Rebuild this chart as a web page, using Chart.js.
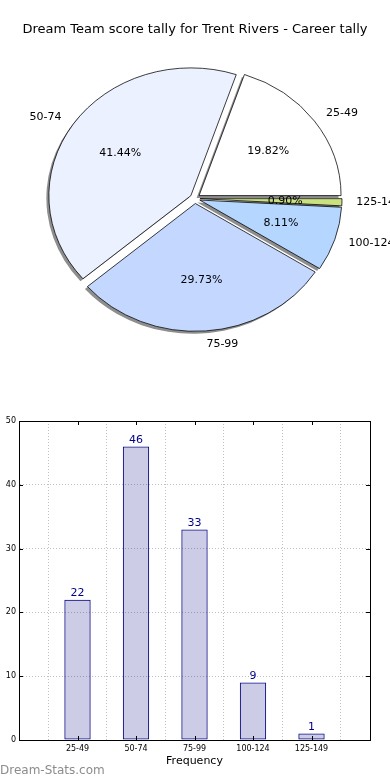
<!DOCTYPE html>
<html>
<head>
<meta charset="utf-8">
<script src="https://cdn.jsdelivr.net/npm/chart.js@4.4.1/dist/chart.umd.min.js"></script>
<style>
  html, body { margin: 0; padding: 0; background: #fff; }
  body { width: 390px; height: 780px; position: relative; overflow: hidden; font-family: 'DejaVu Sans', sans-serif; }
  #pieWrap { position: absolute; left: 0; top: 0; width: 390px; height: 380px; }
  #barWrap { position: absolute; left: 0; top: 400px; width: 390px; height: 380px; }
  #wm { position: absolute; left: 0; top: 763px; font-size: 12px; color: #8c8c8c; white-space: nowrap; }
</style>
</head>
<body>
<div id="pieWrap"><canvas id="pie" width="390" height="380"></canvas></div>
<div id="barWrap"><canvas id="bar" width="390" height="380"></canvas></div>
<div id="wm">Dream-Stats.com</div>
<script>
// ---- data ----
const chartTitle = 'Dream Team score tally for Trent Rivers - Career tally';
const categories = ['25-49', '50-74', '75-99', '100-124', '125-149'];
const frequencies = [22, 46, 33, 9, 1];
const sliceColors = ['#ffffff', '#ebf1ff', '#c4d8ff', '#b4d6ff', '#c9e27f'];
const yTicks = [0, 10, 20, 30, 40, 50];
const xAxisTitle = 'Frequency';

const FONT = "'DejaVu Sans', sans-serif";
const total = frequencies.reduce((a, b) => a + b, 0);

// Pie drawn clockwise in Chart.js; reverse order so slices run counter-clockwise from east
const pieLabels = categories.slice().reverse();
const pieData = frequencies.slice().reverse();
const pieColors = sliceColors.slice().reverse();

const Y_SCALE = 0.9;   // pie is slightly squashed vertically in the reference
const EXPLODE = 5;     // px each wedge is pulled out

function explodeShift(arc) {
  const mid = (arc.startAngle + arc.endAngle) / 2;
  return { dx: Math.cos(mid) * EXPLODE, dy: Math.sin(mid) * EXPLODE / Y_SCALE };
}

const piePlugin = {
  id: 'piePlugin',
  beforeDatasetsDraw(chart) {
    const ctx = chart.ctx;
    const meta = chart.getDatasetMeta(0);
    const a0 = meta.data[0];
    const cx = a0.x, cy = a0.y;
    // pull each wedge out by wrapping the library's own draw
    meta.data.forEach(arc => {
      if (arc._exploded) return;
      const orig = arc.draw;
      arc.draw = function (c) {
        const s = explodeShift(this);
        c.save();
        c.translate(s.dx, s.dy);
        orig.call(this, c);
        c.restore();
      };
      arc._exploded = true;
    });
    ctx.save();
    ctx.translate(cx, cy);
    ctx.scale(1, Y_SCALE);
    ctx.translate(-cx, -cy);
    // shadows
    meta.data.forEach(arc => {
      const s = explodeShift(arc);
      const x = arc.x + s.dx - 2.5;
      const y = arc.y + s.dy + 2.5 / Y_SCALE;
      ctx.beginPath();
      ctx.moveTo(x, y);
      ctx.arc(x, y, arc.outerRadius, arc.startAngle, arc.endAngle);
      ctx.closePath();
      ctx.fillStyle = '#8e8e8e';
      ctx.fill();
    });
  },
  afterDatasetsDraw(chart) {
    const ctx = chart.ctx;
    ctx.restore();
    const meta = chart.getDatasetMeta(0);
    ctx.save();
    ctx.font = '11px ' + FONT;
    ctx.fillStyle = '#000';
    ctx.textBaseline = 'middle';
    meta.data.forEach((arc, i) => {
      const mid = (arc.startAngle + arc.endAngle) / 2;
      const R = arc.outerRadius;
      const c = Math.cos(mid), s = Math.sin(mid);
      const bx = arc.x + c * EXPLODE, by = arc.y + s * EXPLODE;
      const lx = bx + c * R * 1.1, ly = by + s * R * 1.1 * Y_SCALE;
      ctx.textAlign = c >= 0 ? 'left' : 'right';
      ctx.fillText(pieLabels[i], lx, ly);
      const px = bx + c * R * 0.6, py = by + s * R * 0.6 * Y_SCALE;
      ctx.textAlign = 'center';
      const pct = (pieData[i] / total * 100).toFixed(2) + '%';
      ctx.fillText(pct, px, py);
    });
    ctx.restore();
  }
};

new Chart(document.getElementById('pie'), {
  type: 'pie',
  data: {
    labels: pieLabels,
    datasets: [{
      data: pieData,
      backgroundColor: pieColors,
      borderColor: '#000',
      borderWidth: 0.8,
      offset: 0,
      hoverOffset: 0
    }]
  },
  options: {
    responsive: false,
    animation: false,
    events: [],
    rotation: 90,
    radius: 142,
    layout: { padding: { left: 0, right: 0, top: 0, bottom: 20.8 } },
    plugins: {
      legend: { display: false },
      tooltip: { enabled: false },
      title: {
        display: true,
        text: chartTitle,
        color: '#000',
        font: { family: FONT, size: 13, weight: 'normal' },
        padding: { top: 22.2, bottom: 0 }
      }
    }
  },
  plugins: [piePlugin]
});

// ---- bar chart ----
const barLabels = [''].concat(categories, ['']);
const barValues = [null].concat(frequencies, [null]);

const barPlugin = {
  id: 'barPlugin',
  afterDatasetsDraw(chart) {
    const ctx = chart.ctx;
    const area = chart.chartArea;
    const ys = chart.scales.y, xs = chart.scales.x;
    ctx.save();
    ctx.strokeStyle = '#000';
    ctx.lineWidth = 1;
    ctx.beginPath();
    yTicks.forEach(v => {
      const y = Math.round(ys.getPixelForValue(v)) + 0.5;
      ctx.moveTo(area.left, y); ctx.lineTo(area.left + 4, y);
      ctx.moveTo(area.right, y); ctx.lineTo(area.right - 4, y);
    });
    categories.forEach((c, i) => {
      const x = Math.round(xs.getPixelForValue(i + 1)) + 0.5;
      ctx.moveTo(x, area.bottom); ctx.lineTo(x, area.bottom - 4);
      ctx.moveTo(x, area.top); ctx.lineTo(x, area.top + 4);
    });
    ctx.stroke();
    ctx.strokeRect(Math.round(area.left) + 0.5, Math.round(area.top) + 0.5,
                   Math.round(area.right - area.left), Math.round(area.bottom - area.top));
    const meta = chart.getDatasetMeta(0);
    ctx.font = '11px ' + FONT;
    ctx.fillStyle = '#000088';
    ctx.textAlign = 'center';
    ctx.textBaseline = 'bottom';
    meta.data.forEach((bar, i) => {
      const v = barValues[i];
      if (v === null) return;
      ctx.fillText(String(v), bar.x, bar.y - 1);
    });
    ctx.restore();
  }
};

new Chart(document.getElementById('bar'), {
  type: 'bar',
  data: {
    labels: barLabels,
    datasets: [{
      data: barValues,
      backgroundColor: 'rgba(0,0,128,0.2)',
      borderColor: '#000080',
      borderWidth: 1,
      borderSkipped: false,
      barPercentage: 0.45,
      categoryPercentage: 1.0
    }]
  },
  options: {
    responsive: false,
    animation: false,
    events: [],
    layout: { padding: { left: 0, right: 20, top: 21, bottom: 0 } },
    plugins: {
      legend: { display: false },
      tooltip: { enabled: false },
      title: { display: false }
    },
    scales: {
      x: {
        type: 'category',
        offset: false,
        grid: { color: '#c0c0c0', lineWidth: 1, drawTicks: false },
        border: { display: true, color: '#000', width: 1, dash: [1, 2] },
        ticks: { color: '#000', font: { family: FONT, size: 8 }, padding: 4, maxRotation: 0, autoSkip: false },
        title: {
          display: true, text: xAxisTitle, color: '#000',
          font: { family: FONT, size: 11 }, padding: { top: 0, bottom: 12.4 }
        },
        afterFit(scale) { scale.height = 40; }
      },
      y: {
        min: 0, max: 50,
        afterBuildTicks(scale) { scale.ticks = yTicks.map(v => ({ value: v })); },
        grid: { color: '#c0c0c0', lineWidth: 1, drawTicks: false },
        border: { display: true, color: '#000', width: 1, dash: [1, 2] },
        ticks: { color: '#000', font: { family: FONT, size: 8 }, padding: 3 },
        afterFit(scale) { scale.width = 19; }
      }
    }
  },
  plugins: [barPlugin]
});
</script>
</body>
</html>
